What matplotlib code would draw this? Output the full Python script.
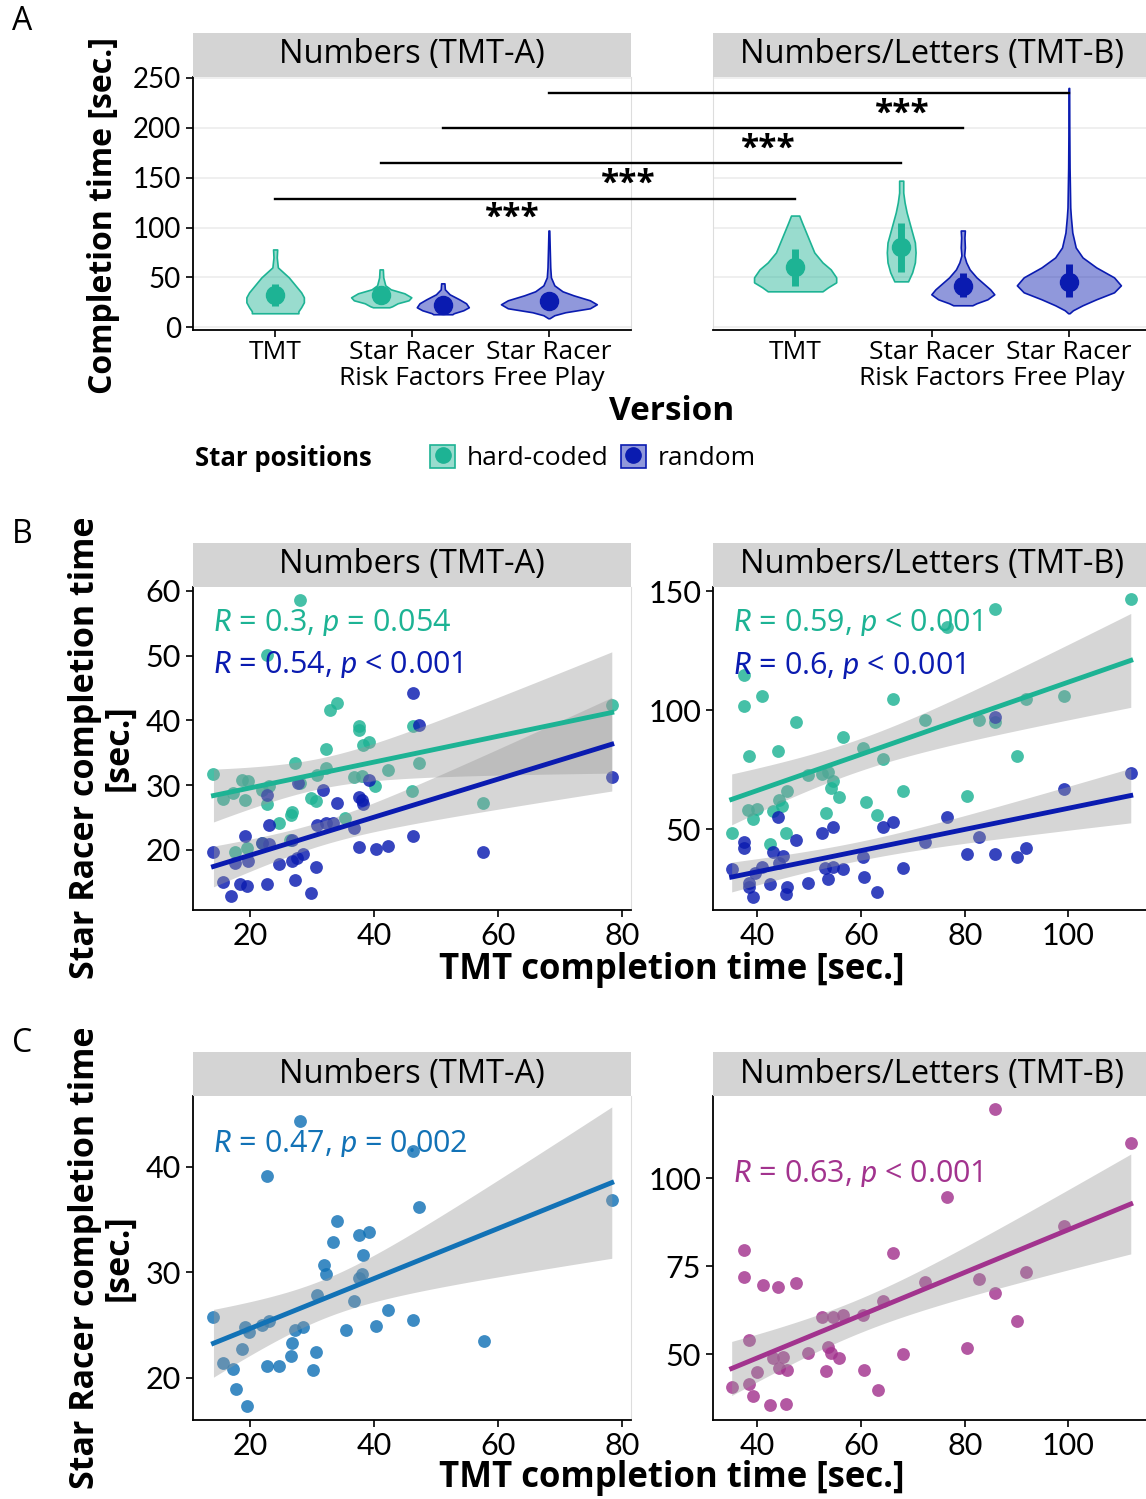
import numpy as np
import matplotlib
matplotlib.use("Agg")
import matplotlib.pyplot as plt
from matplotlib.patches import Rectangle, Patch
from matplotlib.lines import Line2D
from matplotlib.legend_handler import HandlerTuple
from matplotlib.colors import to_rgba

plt.rcParams['font.family'] = ['Open Sans', 'DejaVu Sans']
plt.rcParams['mathtext.fontset'] = 'custom'
plt.rcParams['mathtext.rm'] = 'Lato'
plt.rcParams['mathtext.it'] = 'Lato:italic'
NUMFONT = ['Lato', 'DejaVu Sans']

# ---------------- data ----------------
facets = ["Numbers (TMT-A)", "Numbers/Letters (TMT-B)"]
versions = ["TMT", "Star Racer\nRisk Factors", "Star Racer\nFree Play"]
legend_labels = ["hard-coded", "random"]

# Panel A violin profiles (value level, half width)
# TMT-A
vA_tmt_y = [78, 70, 60, 50, 45, 40, 35, 30, 25, 20, 16, 14]
vA_tmt_w = [0.015, 0.012, 0.02, 0.10, 0.13, 0.16, 0.19, 0.21, 0.21, 0.19, 0.17, 0.17]
vA_rfh_y = [58, 50, 42, 38, 34, 30, 27, 24, 21, 20]
vA_rfh_w = [0.012, 0.015, 0.03, 0.07, 0.17, 0.22, 0.20, 0.12, 0.08, 0.06]
vA_rfr_y = [44, 38, 33, 28, 24, 20, 17, 14, 13]
vA_rfr_w = [0.012, 0.015, 0.05, 0.12, 0.17, 0.19, 0.15, 0.08, 0.07]
vA_fp_y = [97, 80, 60, 50, 42, 36, 32, 27, 23, 19, 15, 12, 9]
vA_fp_w = [0.003, 0.006, 0.01, 0.015, 0.04, 0.10, 0.18, 0.30, 0.35, 0.30, 0.12, 0.04, 0.005]
# TMT-B
vB_tmt_y = [112, 105, 95, 85, 75, 65, 58, 50, 45, 40, 36]
vB_tmt_w = [0.03, 0.05, 0.08, 0.11, 0.14, 0.20, 0.26, 0.30, 0.30, 0.24, 0.20]
vB_rfh_y = [147, 135, 125, 115, 105, 95, 85, 75, 65, 55, 46]
vB_rfh_w = [0.015, 0.015, 0.025, 0.04, 0.06, 0.08, 0.10, 0.105, 0.10, 0.08, 0.05]
vB_rfr_y = [97, 90, 80, 72, 65, 58, 50, 44, 38, 33, 28, 24, 22]
vB_rfr_w = [0.015, 0.012, 0.015, 0.01, 0.025, 0.05, 0.10, 0.15, 0.20, 0.23, 0.18, 0.10, 0.07]
vB_fp_y = [240, 200, 160, 120, 110, 95, 80, 70, 60, 50, 42, 35, 28, 22, 17, 14]
vB_fp_w = [0.002, 0.003, 0.005, 0.01, 0.015, 0.025, 0.05, 0.10, 0.20, 0.33, 0.38, 0.33, 0.20, 0.10, 0.03, 0.005]

# pointrange (mid, low, high): TMT, RF hard, RF random, FP random
prA_mid = [32, 32, 22, 26]
prA_lo = [21, 28, 18, 22]
prA_hi = [43, 37, 27, 31]
prB_mid = [60, 80, 41, 45]
prB_lo = [41, 55, 30, 30]
prB_hi = [78, 105, 54, 63]

# significance comparisons (y level, star y)
sig_y = [129, 165, 200, 235]
sig_star_y = [115, 149, 185, 220]
sig_star_frac = [0.457, 0.475, 0.626, 0.68]

# Panel B scatter: TMT-A
bA_hc_x = [28.1, 22.7, 32.9, 34.0, 37.5, 37.6, 39.1, 38.2, 32.3, 46.2, 78.3, 14.1, 18.7, 19.7, 23.0, 21.9, 17.3, 15.7, 19.2, 27.3,
           28.1, 30.8, 32.2, 36.7, 38.0, 42.2, 47.2, 46.1, 40.2, 29.9, 30.6, 22.8, 26.7, 26.6, 24.6, 35.3, 57.6, 19.5, 17.6, 26.5, 21.9]
bA_hc_y = [58.6, 50.1, 41.6, 42.7, 39.1, 38.5, 36.7, 36.2, 35.6, 39.1, 42.4, 31.7, 30.8, 30.6, 29.8, 29.2, 28.8, 27.8, 27.7, 33.4,
           30.3, 31.6, 32.6, 31.3, 31.4, 32.3, 33.4, 29.1, 29.8, 28.0, 27.6, 27.1, 25.9, 25.3, 24.1, 24.9, 27.3, 20.3, 19.6, 21.5, 21.0]
bA_rd_x = [46.2, 47.2, 78.3, 39.1, 27.8, 22.7, 31.8, 37.6, 38.0, 38.2, 34.0, 23.0, 30.8, 32.2, 33.4, 19.2, 21.9, 23.0, 26.7, 37.5,
           40.3, 42.2, 46.2, 57.6, 14.1, 17.6, 19.7, 24.6, 26.7, 27.5, 28.6, 30.6, 15.7, 18.4, 19.5, 22.7, 27.3, 17.0, 29.8, 36.7]
bA_rd_y = [44.2, 39.3, 31.2, 30.8, 30.3, 28.5, 29.2, 28.1, 27.7, 27.0, 27.2, 23.9, 23.9, 24.1, 24.2, 22.1, 21.1, 20.9, 21.5, 20.5,
           20.1, 20.6, 22.1, 19.6, 19.7, 18.0, 18.2, 17.8, 18.2, 18.7, 19.4, 17.4, 15.0, 14.7, 14.4, 14.7, 15.4, 12.9, 13.3, 23.3]
# Panel B scatter: TMT-B
bB_hc_x = [112.0, 85.9, 76.5, 37.4, 37.4, 40.9, 66.1, 47.5, 72.4, 82.8, 85.9, 91.8, 99.2, 56.5, 38.5, 44.0, 60.4, 64.3, 90.0, 49.9,
           52.5, 53.7, 54.6, 45.8, 54.2, 55.7, 68.2, 80.4, 44.3, 44.8, 38.3, 39.9, 39.2, 43.1, 53.3, 61.0, 63.1, 35.1, 45.6, 42.5]
bB_hc_y = [146.5, 142.3, 135.0, 114.7, 101.7, 105.9, 104.6, 95.1, 95.8, 95.8, 95.1, 104.6, 105.9, 88.8, 80.7, 82.8, 83.9, 79.4, 80.8, 72.7,
           73.1, 73.8, 70.3, 66.1, 67.1, 63.3, 66.1, 63.9, 62.2, 59.7, 58.0, 58.3, 54.1, 57.6, 56.9, 61.5, 55.9, 48.5, 48.5, 43.6]
bB_rd_x = [112.0, 99.2, 85.9, 82.8, 76.5, 66.1, 64.3, 54.6, 52.5, 44.0, 47.5, 37.4, 37.4, 43.1, 44.9, 44.3, 35.1, 40.9, 39.6, 53.1,
           54.7, 56.5, 60.4, 68.2, 80.4, 85.9, 90.0, 91.8, 38.5, 38.5, 39.2, 42.4, 45.8, 45.6, 49.9, 53.6, 60.6, 63.1, 72.4]
bB_rd_y = [73.7, 66.8, 97.2, 46.5, 54.9, 52.8, 50.7, 50.7, 48.2, 55.2, 45.4, 44.7, 41.9, 40.5, 38.7, 35.9, 33.1, 33.9, 31.7, 33.5,
           33.9, 33.1, 38.4, 33.5, 39.5, 39.5, 38.1, 41.9, 27.5, 25.5, 21.6, 26.9, 25.5, 22.7, 27.5, 28.9, 29.7, 23.7, 44.7]
# Panel C scatter
cA_x = [28.1, 46.2, 22.7, 78.3, 47.2, 34.0, 33.3, 37.6, 39.2, 38.2, 31.9, 32.3, 37.6, 38.0, 30.8, 36.7, 14.1, 19.2, 19.9, 22.0,
        23.0, 27.3, 28.6, 26.7, 42.2, 40.3, 46.2, 35.4, 57.7, 18.7, 26.6, 30.6, 15.7, 22.8, 24.6, 30.1, 17.3, 17.7, 19.5]
cA_y = [44.3, 41.5, 39.1, 36.8, 36.2, 34.9, 32.9, 33.5, 33.8, 31.6, 30.7, 29.8, 29.5, 29.8, 27.8, 27.3, 25.8, 24.8, 24.3, 25.0,
        25.4, 24.5, 24.8, 23.3, 26.4, 24.9, 25.5, 24.5, 23.5, 22.7, 22.1, 22.4, 21.4, 21.1, 21.1, 20.7, 20.8, 18.9, 17.3]
cB_x = [85.9, 112.0, 76.5, 37.4, 66.1, 37.4, 41.1, 44.0, 47.5, 99.2, 91.8, 82.8, 72.4, 85.9, 64.3, 52.5, 54.6, 56.5, 60.5, 90.0,
        38.5, 80.4, 53.6, 54.2, 55.7, 49.9, 68.2, 43.1, 44.9, 44.3, 45.8, 39.9, 53.3, 60.6, 35.1, 38.5, 39.2, 63.2, 42.4, 45.6]
cB_y = [119.5, 110.0, 94.7, 79.5, 78.8, 71.8, 69.6, 68.9, 70.3, 86.4, 73.4, 71.2, 70.4, 67.4, 65.2, 60.6, 60.4, 61.1, 61.1, 59.5,
        54.0, 51.8, 51.9, 50.4, 48.8, 50.2, 49.9, 48.8, 49.2, 45.9, 45.5, 45.0, 45.2, 45.5, 40.7, 41.5, 38.1, 39.8, 35.5, 35.8]

stat_B_A = [r"$\mathit{R}$ = 0.3, $\mathit{p}$ = 0.054", r"$\mathit{R}$ = 0.54, $\mathit{p}$ < 0.001"]
stat_B_B = [r"$\mathit{R}$ = 0.59, $\mathit{p}$ < 0.001", r"$\mathit{R}$ = 0.6, $\mathit{p}$ < 0.001"]
stat_C_A = r"$\mathit{R}$ = 0.47, $\mathit{p}$ = 0.002"
stat_C_B = r"$\mathit{R}$ = 0.63, $\mathit{p}$ < 0.001"

GREEN = '#1DB394'
BLUE = '#0A1BB0'
CL = '#1272B6'
CR = '#A2338E'
STRIP = '#D4D4D4'
LIGHT = '#DDDDDD'

# ---------------- figure ----------------
W, H = 1146, 1499
fig = plt.figure(figsize=(W / 100, H / 100), dpi=100)


def add_ax(x0, y0, x1, y1):
    return fig.add_axes([x0 / W, 1 - y1 / H, (x1 - x0) / W, (y1 - y0) / H])


def strip(ax, label, hpx):
    h = hpx / (ax.get_position().height * H)
    ax.add_patch(Rectangle((0, 1), 1, h, transform=ax.transAxes, clip_on=False,
                           fc=STRIP, ec='none', zorder=5))
    ax.text(0.5, 1 + h / 2, label, transform=ax.transAxes, ha='center', va='center',
            fontsize=23.5, zorder=6)


def style(ax, left_black=True):
    ax.spines['bottom'].set_color('black')
    ax.spines['bottom'].set_linewidth(1.3)
    if left_black:
        ax.spines['left'].set_color('black')
        ax.spines['left'].set_linewidth(1.3)
    else:
        ax.spines['left'].set_color(LIGHT)
    ax.spines['right'].set_color(LIGHT)
    ax.spines['top'].set_visible(False)
    ax.tick_params(length=5, width=1.2, color='black')


def num_ticks(ax, axis, size):
    labs = ax.get_xticklabels() if axis == 'x' else ax.get_yticklabels()
    for t in labs:
        t.set_family(NUMFONT)
        t.set_fontsize(size)


# ---------- Panel A ----------
axA1 = add_ax(193, 77, 631, 330)
axA2 = add_ax(713, 77, 1151, 330)
violins = [
    [(1.0, vA_tmt_y, vA_tmt_w, GREEN), (1.775, vA_rfh_y, vA_rfh_w, GREEN),
     (2.225, vA_rfr_y, vA_rfr_w, BLUE), (3.0, vA_fp_y, vA_fp_w, BLUE)],
    [(1.0, vB_tmt_y, vB_tmt_w, GREEN), (1.775, vB_rfh_y, vB_rfh_w, GREEN),
     (2.225, vB_rfr_y, vB_rfr_w, BLUE), (3.0, vB_fp_y, vB_fp_w, BLUE)],
]
prs = [(prA_mid, prA_lo, prA_hi), (prB_mid, prB_lo, prB_hi)]
for i, ax in enumerate([axA1, axA2]):
    ax.set_xlim(0.4, 3.6)
    ax.set_ylim(-2.8, 251)
    ax.set_yticks([0, 50, 100, 150, 200, 250])
    ax.grid(axis='y', color='#EBEBEB', lw=1.1, zorder=0)
    ax.set_axisbelow(True)
    for j, (cx, yy, ww, col) in enumerate(violins[i]):
        yy = np.array(yy, float)
        ww = np.array(ww, float)
        ax.fill_betweenx(yy, cx - ww, cx + ww, facecolor=to_rgba(col, 0.45),
                         edgecolor=col, lw=1.2, zorder=2)
        mid, lo, hi = prs[i]
        ax.plot([cx, cx], [lo[j], hi[j]], color=col, lw=5, solid_capstyle='butt', zorder=3)
        ax.plot([cx], [mid[j]], 'o', color=col, ms=13, zorder=4)
    ax.set_xticks([1, 2, 3])
    ax.set_xticklabels(versions, fontsize=19, linespacing=1.05)
    ax.tick_params(axis='x', pad=2)
    strip(ax, facets[i], 44)
style(axA1)
num_ticks(axA1, 'y', 20)
style(axA2, left_black=False)
axA2.tick_params(axis='y', left=False, labelleft=False)

# significance bars spanning both facets
inv = fig.transFigure.inverted()
pairs = [(1.0, 1.0), (1.775, 1.775), (2.225, 2.225), (3.0, 3.0)]
star_shift = 6 / H  # asterisks sit high in their box; nudge down to read centred
for (xl, xr), yv, ys, fr in zip(pairs, sig_y, sig_star_y, sig_star_frac):
    p1 = inv.transform(axA1.transData.transform((xl, yv)))
    p2 = inv.transform(axA2.transData.transform((xr, yv)))
    fig.add_artist(Line2D([p1[0], p2[0]], [p1[1], p2[1]], color='black', lw=1.7,
                          transform=fig.transFigure, zorder=10))
    ps = inv.transform(axA1.transData.transform((xl, ys)))
    fig.text(p1[0] + fr * (p2[0] - p1[0]), ps[1] - star_shift, "***", ha='center', va='center',
             fontsize=24, fontweight='bold', zorder=10)

fig.text(672 / W, 1 - 412 / H, "Version", ha='center', va='center', fontsize=24, fontweight='bold')
fig.text(104 / W, 1 - 216 / H, "Completion time [sec.]", rotation=90, ha='center', va='center',
         fontsize=23, fontweight='bold')

# legend
fig.text(195 / W, 1 - 459 / H, "Star positions", ha='left', va='center', fontsize=18.5, fontweight='bold')
hands = []
for col in [GREEN, BLUE]:
    hands.append((Patch(facecolor=to_rgba(col, 0.45), edgecolor=col, lw=1.2),
                  Line2D([0], [0], color=col, marker='o', ms=11, lw=0)))
fig.legend(handles=hands, labels=legend_labels, handler_map={tuple: HandlerTuple(ndivide=1)},
           loc='center left', bbox_to_anchor=(417 / W, 1 - 458 / H), ncol=2, frameon=False,
           fontsize=19, handlelength=0.95, handleheight=0.95, columnspacing=0.45, handletextpad=0.45,
           borderpad=0)


# ---------- scatter panels ----------
def fit_band(ax, x, y, color):
    x = np.asarray(x, float)
    y = np.asarray(y, float)
    n = len(x)
    b1, b0 = np.polyfit(x, y, 1)
    xs = np.linspace(x.min(), x.max(), 100)
    yh = b0 + b1 * xs
    resid = y - (b0 + b1 * x)
    s = np.sqrt(np.sum(resid ** 2) / (n - 2))
    sxx = np.sum((x - x.mean()) ** 2)
    se = s * np.sqrt(1 / n + (xs - x.mean()) ** 2 / sxx)
    t = 2.02
    ax.fill_between(xs, yh - t * se, yh + t * se, color='#999999', alpha=0.4, lw=0, zorder=3)
    ax.plot(xs, yh, color=color, lw=3.5, zorder=4)


def scatter_panel(ax, series, xlim, ylim, xticks, yticks, label):
    for x, y, c in series:
        ax.scatter(x, y, s=85, color=c, alpha=0.82, lw=0, zorder=2)
    for x, y, c in series:
        fit_band(ax, x, y, c)
    ax.set_xlim(*xlim)
    ax.set_ylim(*ylim)
    ax.set_xticks(xticks)
    ax.set_yticks(yticks)
    num_ticks(ax, 'x', 22)
    num_ticks(ax, 'y', 22)
    style(ax)
    strip(ax, label, 44)


axB1 = add_ax(193, 587, 631, 910)
axB2 = add_ax(713, 587, 1151, 910)
scatter_panel(axB1, [(bA_hc_x, bA_hc_y, GREEN), (bA_rd_x, bA_rd_y, BLUE)],
              (10.8, 81.4), (10.7, 60.6), [20, 40, 60, 80], [20, 30, 40, 50, 60], facets[0])
scatter_panel(axB2, [(bB_hc_x, bB_hc_y, GREEN), (bB_rd_x, bB_rd_y, BLUE)],
              (31.5, 115.9), (16.0, 151.7), [40, 60, 80, 100], [50, 100, 150], facets[1])
SF = 22
axB1.text(14.0, 55.1, stat_B_A[0], color=GREEN, fontsize=SF, ha='left', va='center', zorder=6)
axB1.text(14.0, 48.6, stat_B_A[1], color=BLUE, fontsize=SF, ha='left', va='center', zorder=6)
axB2.text(35.4, 136.6, stat_B_B[0], color=GREEN, fontsize=SF, ha='left', va='center', zorder=6)
axB2.text(35.4, 118.9, stat_B_B[1], color=BLUE, fontsize=SF, ha='left', va='center', zorder=6)

axC1 = add_ax(193, 1096, 631, 1420)
axC2 = add_ax(713, 1096, 1151, 1420)
scatter_panel(axC1, [(cA_x, cA_y, CL)], (10.8, 81.4), (16.0, 46.7), [20, 40, 60, 80], [20, 30, 40], facets[0])
scatter_panel(axC2, [(cB_x, cB_y, CR)], (31.5, 115.9), (31.25, 123.3), [40, 60, 80, 100], [50, 75, 100], facets[1])
axC1.text(14.0, 42.2, stat_C_A, color=CL, fontsize=SF, ha='left', va='center', zorder=6)
axC2.text(35.4, 101.4, stat_C_B, color=CR, fontsize=SF, ha='left', va='center', zorder=6)

for yc_t, yc_l in [(970, 748), (1478, 1258)]:
    fig.text(672 / W, 1 - yc_t / H, "TMT completion time [sec.]", ha='center', va='center',
             fontsize=25, fontweight='bold')
    fig.text(102 / W, 1 - yc_l / H, "Star Racer completion time\n[sec.]", rotation=90, ha='center',
             va='center', fontsize=24.5, fontweight='bold', linespacing=1.0, multialignment='center')

for lab, y in [("A", 22), ("B", 535), ("C", 1043)]:
    fig.text(22 / W, 1 - y / H, lab, ha='center', va='center', fontsize=23)

fig.savefig("out.png", dpi=100)
